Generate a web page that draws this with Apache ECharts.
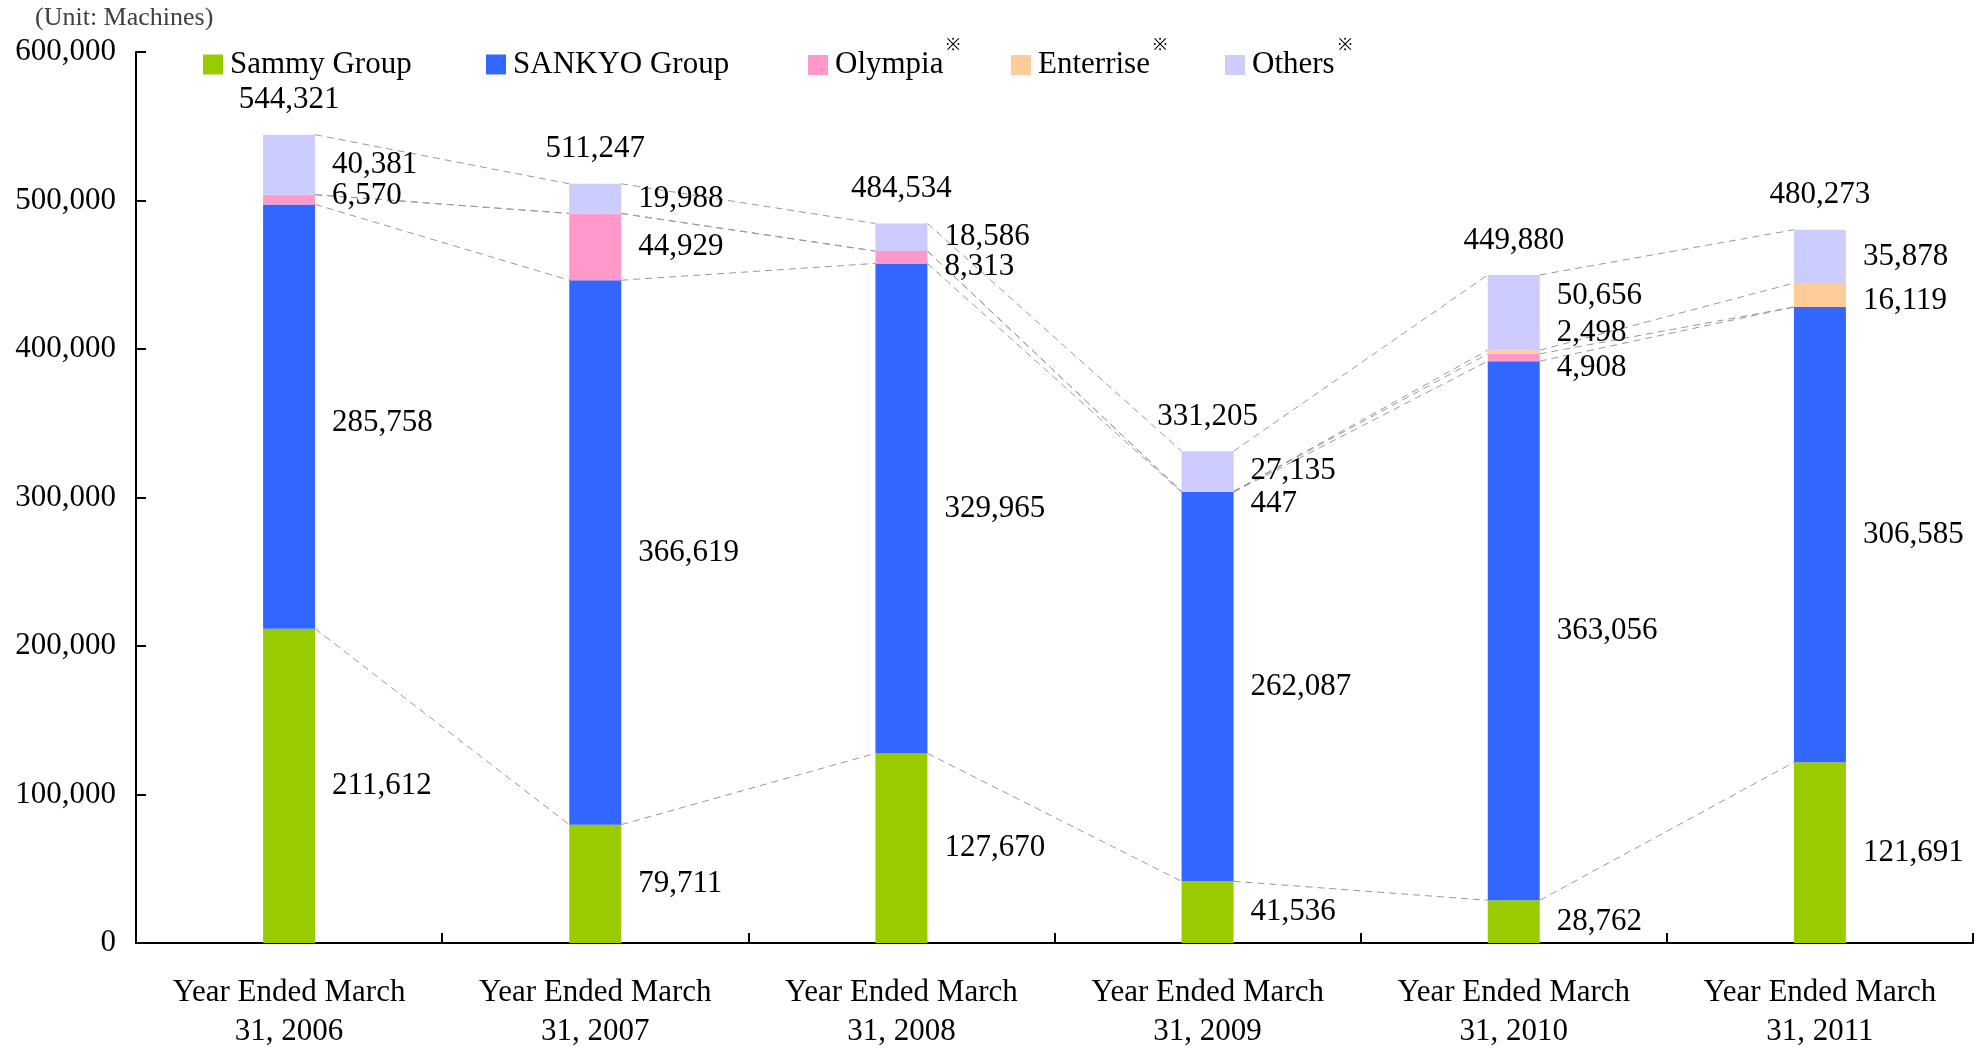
<!DOCTYPE html>
<html>
<head>
<meta charset="utf-8">
<script src="https://cdn.jsdelivr.net/npm/echarts@6/dist/echarts.min.js"></script>
<style>
  html, body { margin: 0; padding: 0; background: #fff; }
  #chart { width: 1984px; height: 1050px; }
</style>
</head>
<body>
<div id="chart"></div>
<script>
var years = ['Year Ended March\n31, 2006', 'Year Ended March\n31, 2007', 'Year Ended March\n31, 2008',
             'Year Ended March\n31, 2009', 'Year Ended March\n31, 2010', 'Year Ended March\n31, 2011'];
var sammy     = [211612, 79711, 127670, 41536, 28762, 121691];
var sankyo    = [285758, 366619, 329965, 262087, 363056, 306585];
var olympia   = [6570, 44929, 8313, 447, 4908, 0];
var enterrise = [0, 0, 0, 0, 2498, 16119];
var others    = [40381, 19988, 18586, 27135, 50656, 35878];
var totals    = [544321, 511247, 484534, 331205, 449880, 480273];
var yTicks    = [0, 100000, 200000, 300000, 400000, 500000, 600000];

var FONT = 'Liberation Serif';
var BAR_W = 52;

// small vertical nudges so the crowded labels don't overlap
var labelShift = {
    'Sankyo': {0: 6},
    'Olympia': {0: -4, 2: 10, 3: 12, 4: 10},
    'Enterrise': {4: -19, 5: 6},
    'Others': {4: -17}
};

function fmt(v) {
    return v.toString().replace(/\B(?=(\d{3})+(?!\d))/g, ',');
}

function barData(key, values) {
    return values.map(function (v, i) {
        var item = { value: v };
        if (v === 0) {
            item.label = { show: false };
        } else if (labelShift[key] && labelShift[key][i] !== undefined) {
            item.label = { offset: [0, labelShift[key][i]] };
        }
        return item;
    });
}

// cumulative tops of every segment, used for the dashed connectors
var layers = [sammy, sankyo, olympia, enterrise, others];
var cum = [];
var run = [0, 0, 0, 0, 0, 0];
layers.forEach(function (arr) {
    run = run.map(function (r, i) { return r + arr[i]; });
    cum.push(run.slice());
});

function barSeries(name, key, values, color) {
    return {
        name: name,
        type: 'bar',
        stack: 'total',
        barWidth: BAR_W,
        itemStyle: { color: color },
        label: {
            show: true,
            position: 'right',
            distance: 17,
            color: '#000',
            fontFamily: FONT,
            fontSize: 31,
            formatter: function (p) { return fmt(p.value); }
        },
        data: barData(key, values),
        z: 3
    };
}

function legendAt(name, left, star) {
    return {
        data: [name],
        left: left,
        top: star ? 32 : 44,
        itemWidth: 20,
        itemHeight: 20,
        itemGap: 0,
        icon: 'rect',
        textStyle: {
            fontFamily: FONT, fontSize: 31, color: '#000', padding: [0, 0, 0, 2],
            rich: {
                n: { fontFamily: FONT, fontSize: 31, color: '#000', lineHeight: 56, verticalAlign: 'middle' },
                s: { fontFamily: FONT, fontSize: 17, color: '#000', lineHeight: 17, verticalAlign: 'top', padding: [0, 0, 0, 3] }
            }
        },
        formatter: function (n) { return star ? '{n|' + n + '}{s|※}' : '{n|' + n + '}'; }
    };
}

var myChart = echarts.init(document.getElementById('chart'));

option = {
    animation: false,
    backgroundColor: '#fff',
    grid: { left: 136, right: 11, top: 52, bottom: 107, outerBoundsMode: 'none', containLabel: false },
    graphic: [{
        type: 'text', left: 35, top: 5,
        style: { text: '(Unit: Machines)', fontFamily: FONT, fontSize: 26, fill: '#404040' }
    }],
    legend: [
        legendAt('Sammy Group', 198, false),
        legendAt('SANKYO Group', 481, false),
        legendAt('Olympia', 803, true),
        legendAt('Enterrise', 1006, true),
        legendAt('Others', 1220, true)
    ],
    xAxis: {
        type: 'category',
        data: years,
        axisLine: { lineStyle: { color: '#000', width: 2 } },
        axisTick: { show: true, inside: true, length: 10, interval: 0, lineStyle: { color: '#000', width: 2 } },
        axisLabel: { color: '#000', fontFamily: FONT, fontSize: 31, lineHeight: 39, margin: 30, interval: 0 }
    },
    yAxis: {
        type: 'value',
        min: yTicks[0],
        max: yTicks[yTicks.length - 1],
        interval: 100000,
        splitLine: { show: false },
        axisLine: { show: true, lineStyle: { color: '#000', width: 2 } },
        axisTick: { show: true, inside: true, length: 10, lineStyle: { color: '#000', width: 2 } },
        axisLabel: { color: '#000', fontFamily: FONT, fontSize: 31, margin: 20, formatter: function (v) { return fmt(v); } }
    },
    series: [
        barSeries('Sammy Group', 'Sammy', sammy, '#99CC00'),
        barSeries('SANKYO Group', 'Sankyo', sankyo, '#3366FF'),
        barSeries('Olympia', 'Olympia', olympia, '#FF99CC'),
        barSeries('Enterrise', 'Enterrise', enterrise, '#FFCC99'),
        barSeries('Others', 'Others', others, '#CCCCFF'),
        {
            name: 'Total',
            type: 'custom',
            silent: true,
            renderItem: function (params, api) {
                var pt = api.coord([api.value(0), api.value(1)]);
                return {
                    type: 'text',
                    x: pt[0],
                    y: pt[1] - 19,
                    style: {
                        text: fmt(api.value(1)), fontFamily: FONT, fontSize: 31, fill: '#000',
                        align: 'center', verticalAlign: 'bottom'
                    }
                };
            },
            data: totals.map(function (t, i) { return [i, t]; }),
            z: 4
        },
        {
            name: 'connectors',
            type: 'custom',
            silent: true,
            renderItem: function (params, api) {
                var i = api.value(0);
                var kids = cum.map(function (lvl) {
                    var a = api.coord([i, lvl[i]]);
                    var b = api.coord([i + 1, lvl[i + 1]]);
                    return {
                        type: 'line',
                        shape: { x1: a[0] + BAR_W / 2, y1: a[1], x2: b[0] - BAR_W / 2, y2: b[1] },
                        style: { stroke: '#999', lineWidth: 1, lineDash: [7, 5] }
                    };
                });
                return { type: 'group', children: kids };
            },
            data: [[0], [1], [2], [3], [4]],
            z: 2
        }
    ]
};

myChart.setOption(option, true);
</script>
</body>
</html>
